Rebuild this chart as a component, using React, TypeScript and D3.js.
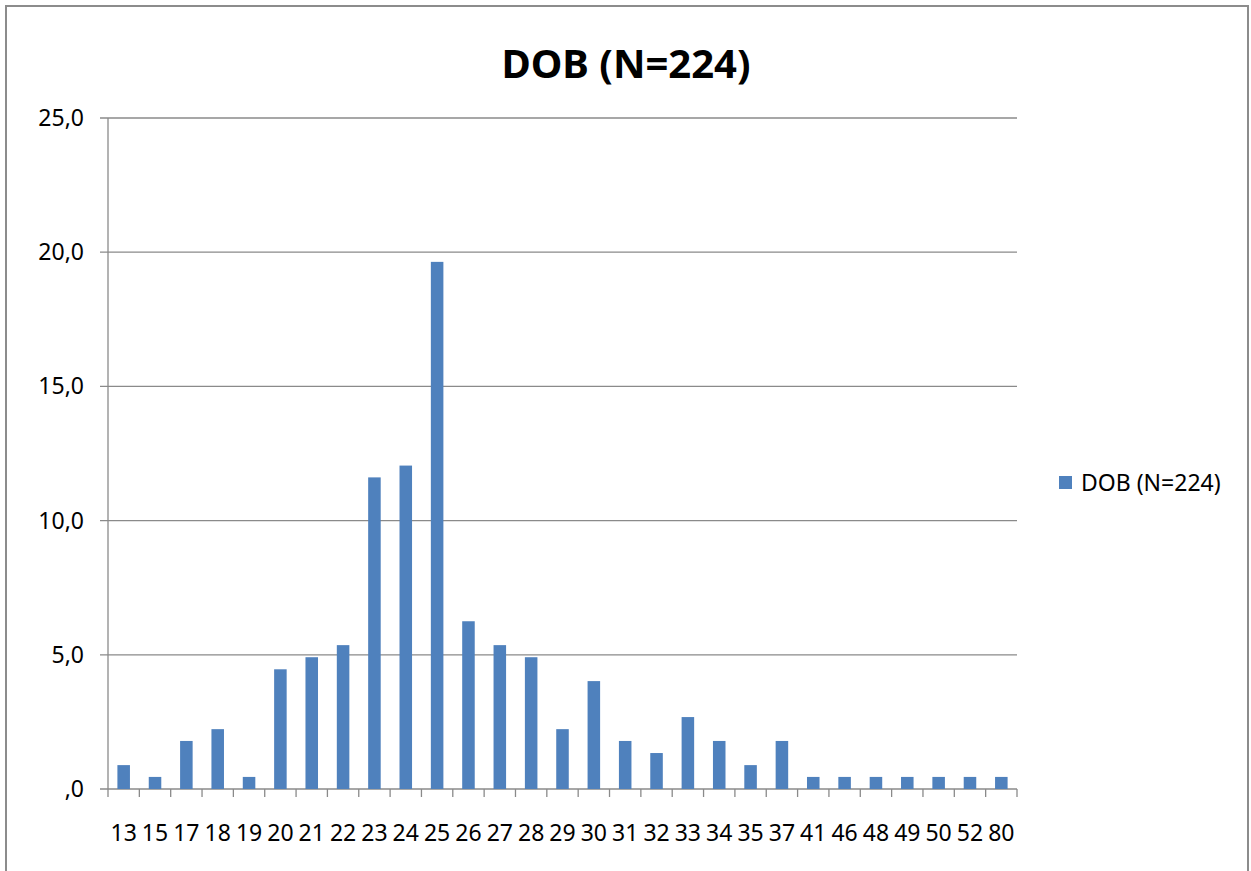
import React from 'react';
import * as d3 from 'd3';

// DOB distribution, % of N=224
const categories = ['13', '15', '17', '18', '19', '20', '21', '22', '23', '24', '25', '26', '27', '28', '29', '30', '31', '32', '33', '34', '35', '37', '41', '46', '48', '49', '50', '52', '80'];
const values = [0.89, 0.45, 1.79, 2.23, 0.45, 4.46, 4.91, 5.36, 11.61, 12.05, 19.64, 6.25, 5.36, 4.91, 2.23, 4.02, 1.79, 1.34, 2.68, 1.79, 0.89, 1.79, 0.45, 0.45, 0.45, 0.45, 0.45, 0.45, 0.45];
const yTicks = [0, 5, 10, 15, 20, 25];
const title = 'DOB (N=224)';
const seriesName = 'DOB (N=224)';

const COLORS = {
    bar: '#4F81BD',
    grid: '#8a8a8a',
    border: '#8c8c8c',
    text: '#000000',
};

const FONT = '"Noto Sans", "Open Sans", sans-serif';

export default function App() {
    const width = 1251;
    const height = 871;
    const plot = { left: 108, right: 1017, top: 118, bottom: 789 };

    const x = d3.scaleBand<string>()
        .domain(categories)
        .range([plot.left, plot.right])
        .paddingInner(0.6)
        .paddingOuter(0.3);

    const y = d3.scaleLinear().domain([0, 25]).range([plot.bottom, plot.top]);

    const fmt = (d: number) => (d === 0 ? ',0' : d.toFixed(1).replace('.', ','));
    const step = x.step();
    const boundaries = d3.range(categories.length + 1).map(i => plot.left + i * step);

    return (
        <svg width={width} height={height} style={{ position: 'absolute', left: 0, top: 0, background: '#fff' }}>
            {/* chart frame */}
            <rect x={6} y={6} width={1242} height={900} fill="#fff" stroke={COLORS.border} strokeWidth={2} />

            <text x={626} y={78} textAnchor="middle" fontFamily={FONT} fontWeight="bold" fontSize={40} fill={COLORS.text}>
                {title}
            </text>

            {/* gridlines + y labels */}
            {yTicks.map(t => (
                <g key={t}>
                    <line x1={plot.left - 8} x2={plot.right} y1={y(t)} y2={y(t)} stroke={COLORS.grid} strokeWidth={1.3} />
                    <text x={84} y={y(t)} dy="0.35em" textAnchor="end" fontFamily={FONT} fontSize={23} fill={COLORS.text}>
                        {fmt(t)}
                    </text>
                </g>
            ))}

            {/* y axis */}
            <line x1={plot.left} x2={plot.left} y1={plot.top} y2={plot.bottom} stroke={COLORS.grid} strokeWidth={1.3} />

            {/* bars */}
            {categories.map((c, i) => (
                <rect key={c} x={x(c)} y={y(values[i])} width={x.bandwidth()} height={plot.bottom - y(values[i])} fill={COLORS.bar} />
            ))}

            {/* x axis ticks */}
            {boundaries.map((bx, i) => (
                <line key={i} x1={bx} x2={bx} y1={plot.bottom} y2={plot.bottom + 8} stroke={COLORS.grid} strokeWidth={1.3} />
            ))}
            {categories.map(c => (
                <text key={c} x={(x(c) ?? 0) + x.bandwidth() / 2} y={841} textAnchor="middle" fontFamily={FONT} fontSize={23} fill={COLORS.text}>
                    {c}
                </text>
            ))}

            {/* legend */}
            <rect x={1059} y={476} width={13} height={13} fill={COLORS.bar} />
            <text x={1081} y={483} dy="0.35em" fontFamily={FONT} fontSize={23} fill={COLORS.text}>
                {seriesName}
            </text>
        </svg>
    );
}
